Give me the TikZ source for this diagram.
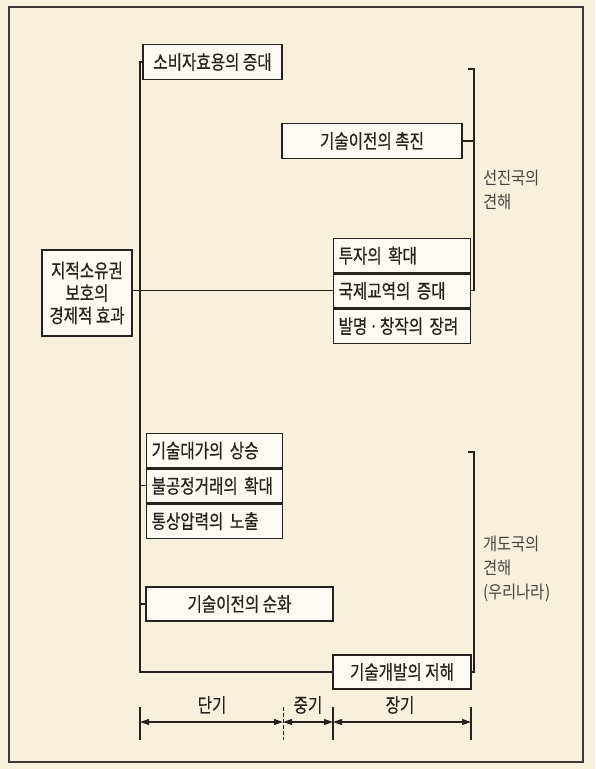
\documentclass[tikz,border=0pt]{standalone}
\usepackage{fontspec}
\setmainfont{Noto Sans CJK KR}
\newfontfamily\krbox[FakeStretch=0.8, FakeBold=0.6]{Noto Sans CJK KR}
\newfontfamily\krside[FakeStretch=0.88]{Noto Sans CJK KR}
\usetikzlibrary{arrows.meta}
\definecolor{paper}{RGB}{246,240,221}
\definecolor{boxfill}{RGB}{252,250,243}
\definecolor{ink}{RGB}{38,34,30}
\begin{document}
\begin{tikzpicture}[x=1pt,y=-1pt,
  conn/.style={draw=ink, line width=1.2pt},
  box/.style={draw=ink, line width=1.25pt, fill=boxfill, text=ink, inner sep=0pt,
    font=\krbox\fontsize{19.5}{22}\selectfont},
  cbox/.style={box, minimum width=#1, minimum height=35pt},
  rowbox/.style={box, anchor=north west, text width=#1, inner xsep=5pt, inner ysep=0pt,
    minimum height=34pt, align=left},
  side/.style={anchor=north west, align=left, text=ink!85, inner sep=0pt,
    font=\krside\fontsize{17.5}{24}\selectfont},
  lbl/.style={text=ink, font=\krbox\fontsize{19.5}{22}\selectfont, inner sep=0pt},
  dim/.style={draw=ink, line width=1.1pt,
    {Triangle[length=9pt,width=6pt]}-{Triangle[length=9pt,width=6pt]}},
  tick/.style={draw=ink, line width=1.1pt}
]
\useasboundingbox (0,0) rectangle (595,769);
\fill[paper] (0,0) rectangle (595,769);
\draw[draw=ink!90, line width=1.6pt] (9,7) rectangle (583,762);

% main box
\node[box, minimum width=90pt, minimum height=86pt, align=center,
  font=\krbox\fontsize{19.5}{22.5}\selectfont] (main) at (87,293) {지적소유권\\보호의\\경제적 효과};

% upper boxes
\node[cbox=139pt] (n1) at (212.5,62) {소비자효용의 증대};
\node[cbox=180pt] (n2) at (372,141) {기술이전의 촉진};

% upper stack
\node[rowbox=127pt] (a1) at (333,238) {투자의 확대};
\node[rowbox=127pt] (a2) at (a1.south west) {국제교역의 증대};
\node[rowbox=127pt] (a3) at (a2.south west) {발명\kern2pt·\kern2pt창작의 장려};

% lower stack
\node[rowbox=126pt] (b1) at (146,433) {기술대가의 상승};
\node[rowbox=126pt] (b2) at (b1.south west) {불공정거래의 확대};
\node[rowbox=126pt] (b3) at (b2.south west) {통상압력의 노출};

\node[cbox=187pt, minimum height=34pt] (n3) at (239.5,604) {기술이전의 순화};
\node[cbox=138pt, minimum height=34pt] (n4) at (402,672) {기술개발의 저해};

% spine
\coordinate (spX) at (140,0);
\draw[conn] (n1.west) -- (n1.west -| spX) -- (spX |- n4.west) -- (n4.west);
\draw[conn] (main.east |- a2.west) -- (a2.west);
\draw[conn] (spX |- b2.west) -- (b2.west);
\draw[conn] (spX |- n3.west) -- (n3.west);

% upper right bracket
\coordinate (brA) at (474,69);
\coordinate (brAt) at (468,69);
\draw[conn] (brAt) -- (brA) -- (brA |- a2.east) -- (a2.east);
\draw[conn] (n2.east) -- (n2.east -| brA);

% lower right bracket
\coordinate (brB) at (474,452);
\coordinate (brBt) at (468,452);
\draw[conn] (brBt) -- (brB) -- (brB |- n4.east) -- (n4.east);

% side texts
\node[side] (sA) at (483,170) {선진국의\\견해};
\node[side] (sB) at (483,536) {개도국의\\견해\\(우리나라)};

% timeline
\coordinate (t0) at (140,722);
\coordinate (t1) at (283,722);
\coordinate (t2) at (333,722);
\coordinate (t3) at (471,722);
\draw[tick] ([yshift=15pt]t0) -- ([yshift=-18pt]t0);
\draw[tick, line width=0.6pt, dash pattern=on 4pt off 2pt] ([yshift=15pt]t1) -- ([yshift=-18pt]t1);
\draw[tick] ([yshift=15pt]t2) -- ([yshift=-18pt]t2);
\draw[tick] ([yshift=15pt]t3) -- ([yshift=-18pt]t3);
\draw[dim] (t0) -- (t1);
\draw[dim] (t1) -- (t2);
\draw[dim] (t2) -- (t3);
\node[lbl] (l1) at (212,705) {단기};
\node[lbl] (l2) at (308,705) {중기};
\node[lbl] (l3) at (400,705) {장기};
\end{tikzpicture}
\end{document}
